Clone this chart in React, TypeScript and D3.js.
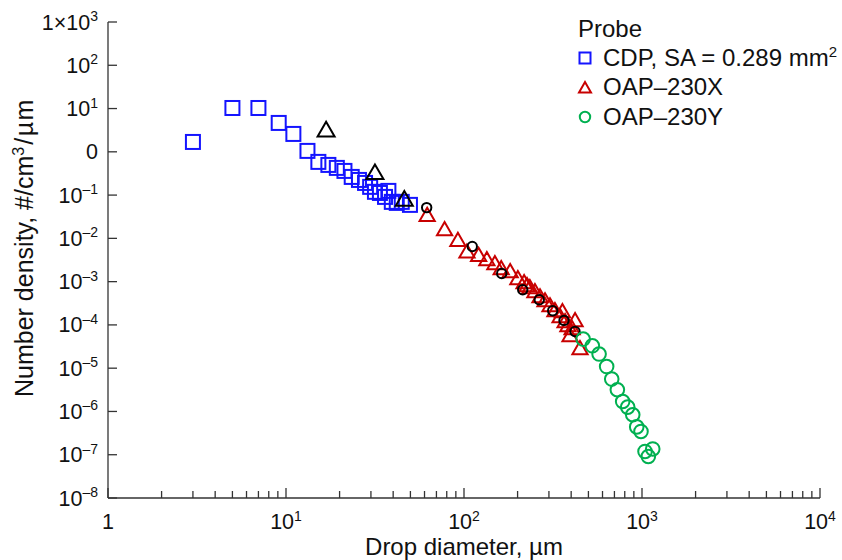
import React from 'react';
import * as d3 from 'd3';

// ---- data ----
const cdpDiameter = [3.0, 5.0, 7.0, 9.1, 11.0, 13.2, 15.2, 17.3, 19.3, 21.3, 23.4, 25.7, 27.8, 29.7, 31.6, 33.7, 36.0, 37.6, 39.3, 41.9, 44.7, 49.7];
const cdpDensity = [1.69, 10.3, 10.3, 4.65, 2.59, 1.05, 0.585, 0.498, 0.425, 0.362, 0.263, 0.224, 0.191, 0.155, 0.119, 0.112, 0.0908, 0.125, 0.0697, 0.066, 0.0697, 0.0594];

const oapXDiameter = [62.1, 77.8, 92.4, 103.9, 120.8, 134.4, 149.1, 161.8, 181.7, 200.7, 217.6, 226, 234.4, 250.3, 267.3, 285.2, 304.2, 324.3, 346.6, 357.2, 369.8, 383.6, 394.2, 404.9, 420.7, 448.3];
const oapXDensity = [0.0318, 0.0149, 0.00844, 0.00455, 0.0038, 0.00302, 0.00244, 0.00187, 0.0016, 0.0011, 0.00089, 0.00076, 0.00068, 0.00055, 0.00042, 0.00034, 0.00026, 0.0002, 0.000146, 0.00019, 0.000112, 0.00009, 0.000053, 0.000077, 0.000118, 0.0000266];

const oapYDiameter = [467, 526, 574, 633, 676, 727, 779, 831, 887, 934, 987, 1040, 1085, 1149];
const oapYDensity = [4.7e-5, 3.29e-5, 2.12e-5, 1.09e-5, 5.6e-6, 3.17e-6, 1.7e-6, 1.26e-6, 8.4e-7, 4.4e-7, 3.45e-7, 1.19e-7, 9.1e-8, 1.36e-7];

const refTriDiameter = [16.8, 31.6, 46.2];
const refTriDensity = [2.92, 0.304, 0.0735];

const refCircDiameter = [61.7, 111.3, 162.9, 213.7, 264.8, 315, 364.6, 420.3];
const refCircDensity = [0.0514, 0.00647, 0.00154, 0.000647, 0.00038, 0.000212, 0.000127, 0.0000705];

const xTickValues = [1, 10, 100, 1000, 10000];
const xTickBases = ['1', '10', '10', '10', '10'];
const xTickExps = ['', '1', '2', '3', '4'];

const yTickValues = [1e3, 1e2, 1e1, 1, 1e-1, 1e-2, 1e-3, 1e-4, 1e-5, 1e-6, 1e-7, 1e-8];
const yTickBases = ['1×10', '10', '10', '0', '10', '10', '10', '10', '10', '10', '10', '10'];
const yTickExps = ['3', '2', '1', '', '–1', '–2', '–3', '–4', '–5', '–6', '–7', '–8'];

const legendTitle = 'Probe';
const legendLabels = ['CDP, SA = 0.289 mm', 'OAP–230X', 'OAP–230Y'];

const BLUE = '#1414ff';
const RED = '#c80000';
const GREEN = '#00b050';
const BLACK = '#000000';
const AXIS = '#333333';
const TEXT = '#111111';
const FONT = '"Liberation Sans", Arial, Helvetica, sans-serif';

export default function App() {
  const W = 842, H = 560;
  const x = d3.scaleLog().domain([1, 1e4]).range([108, 820]);
  const y = d3.scaleLog().domain([1e-8, 1e3]).range([498, 22]);

  const triSmall = d3.symbol(d3.symbolTriangle, 100)() as string;
  const triBig = d3.symbol(d3.symbolTriangle, 125)() as string;
  const triLegend = d3.symbol(d3.symbolTriangle, 62)() as string;

  const minorX: number[] = [];
  for (let p = 0; p < 4; p++) {
    for (let k = 2; k <= 9; k++) minorX.push(k * Math.pow(10, p));
  }

  const sq = 14;
  const tickFont = 21.5;
  const supFont = 14;

  return (
    <svg width={W} height={H} style={{ position: 'absolute', left: 0, top: 0, display: 'block', background: '#fff' }} fontFamily={FONT}>
      {/* axes */}
      <line x1={x(1)} x2={x(1e4)} y1={y(1e-8)} y2={y(1e-8)} stroke={AXIS} strokeWidth={1.3} />
      <line x1={x(1)} x2={x(1)} y1={y(1e-8)} y2={y(1e3)} stroke={AXIS} strokeWidth={1.3} />
      {xTickValues.map((v, i) => (
        <g key={'xt' + i}>
          <line x1={x(v)} x2={x(v)} y1={y(1e-8)} y2={y(1e-8) - 10} stroke={AXIS} strokeWidth={1.3} />
          <text x={x(v)} y={529} textAnchor="middle" fontSize={tickFont} fill={TEXT}>
            {xTickBases[i]}
            {xTickExps[i] && <tspan dy={-8.5} fontSize={supFont}>{xTickExps[i]}</tspan>}
          </text>
        </g>
      ))}
      {minorX.map((v, i) => (
        <line key={'xm' + i} x1={x(v)} x2={x(v)} y1={y(1e-8)} y2={y(1e-8) - 7} stroke={AXIS} strokeWidth={1.3} />
      ))}
      {yTickValues.map((v, i) => (
        <g key={'yt' + i}>
          <line x1={x(1)} x2={x(1) + 9} y1={y(v)} y2={y(v)} stroke={AXIS} strokeWidth={1.3} />
          <text x={98} y={y(v) + 7.5} textAnchor="end" fontSize={tickFont} fill={TEXT}>
            {yTickBases[i]}
            {yTickExps[i] && <tspan dy={-8.5} fontSize={supFont}>{yTickExps[i]}</tspan>}
          </text>
        </g>
      ))}

      {/* axis titles */}
      <text x={(x(1) + x(1e4)) / 2} y={555} textAnchor="middle" fontSize={24} fill={TEXT}>
        Drop diameter, µm
      </text>
      <text transform={`translate(33, 397) rotate(-90)`} textAnchor="start" fontSize={25} fill={TEXT}>
        Number density, #/cm<tspan dy={-9} fontSize={16}>3</tspan><tspan dy={9} dx={2} letterSpacing={1.5}>/µm</tspan>
      </text>

      {/* CDP squares */}
      {cdpDiameter.map((d, i) => (
        <rect key={'c' + i} x={x(d) - sq / 2} y={y(cdpDensity[i]) - sq / 2} width={sq} height={sq}
          fill="none" stroke={BLUE} strokeWidth={2} />
      ))}
      {/* OAP-230X triangles */}
      {oapXDiameter.map((d, i) => (
        <path key={'r' + i} d={triSmall} transform={`translate(${x(d)},${y(oapXDensity[i])})`}
          fill="none" stroke={RED} strokeWidth={2} />
      ))}
      {/* black reference triangles */}
      {refTriDiameter.map((d, i) => (
        <path key={'bt' + i} d={triBig} transform={`translate(${x(d)},${y(refTriDensity[i])})`}
          fill="none" stroke={BLACK} strokeWidth={2} />
      ))}
      {/* black reference circles */}
      {refCircDiameter.map((d, i) => (
        <circle key={'bc' + i} cx={x(d)} cy={y(refCircDensity[i])} r={4.7}
          fill="none" stroke={BLACK} strokeWidth={2} />
      ))}
      {/* OAP-230Y circles */}
      {oapYDiameter.map((d, i) => (
        <circle key={'g' + i} cx={x(d)} cy={y(oapYDensity[i])} r={6.8}
          fill="none" stroke={GREEN} strokeWidth={2} />
      ))}

      {/* legend */}
      <text x={578} y={37} fontSize={24} fill={TEXT}>{legendTitle}</text>
      <rect x={585 - 5.5} y={58 - 5.5} width={11} height={11} fill="none" stroke={BLUE} strokeWidth={2} />
      <text x={603} y={66} fontSize={24} fill={TEXT}>
        {legendLabels[0]}<tspan dy={-9} fontSize={15}>2</tspan>
      </text>
      <path d={triLegend} transform="translate(585,89)" fill="none" stroke={RED} strokeWidth={2} />
      <text x={603} y={95} fontSize={24} fill={TEXT}>{legendLabels[1]}</text>
      <circle cx={585} cy={117} r={5.2} fill="none" stroke={GREEN} strokeWidth={2} />
      <text x={603} y={124.5} fontSize={24} fill={TEXT}>{legendLabels[2]}</text>
    </svg>
  );
}
